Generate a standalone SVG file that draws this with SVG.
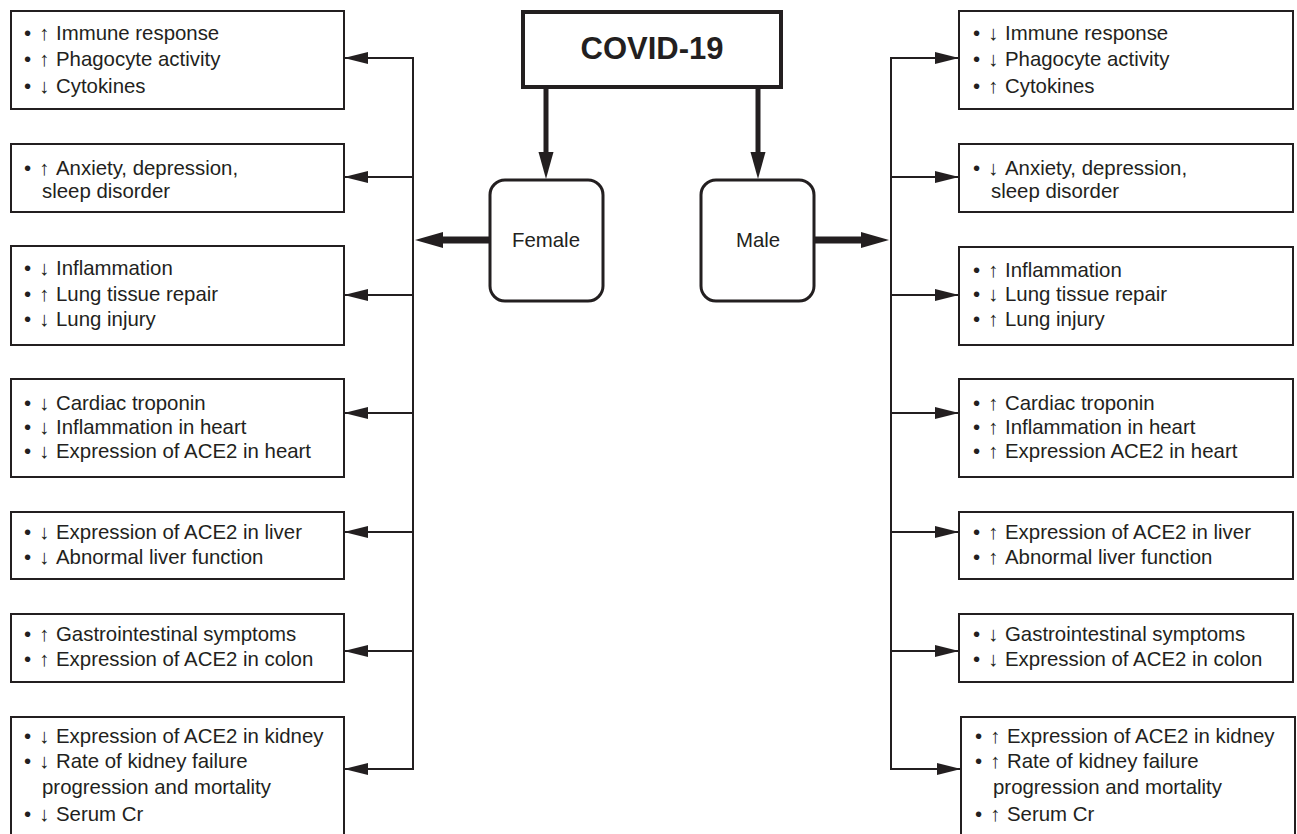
<svg xmlns="http://www.w3.org/2000/svg" width="1297" height="834" viewBox="0 0 1297 834">
<style>
.box{fill:#fff;stroke:#231f20;stroke-width:2}
.t{font-family:"Liberation Sans",Arial,sans-serif;font-size:20.4px;fill:#231f20}
.ln{fill:none;stroke:#231f20;stroke-width:2}
.thk{fill:none;stroke:#231f20;stroke-width:5}
.thkh{fill:none;stroke:#231f20;stroke-width:7}
.hd{fill:#231f20;stroke:none}
</style>
<defs>
<marker id="ah" markerUnits="userSpaceOnUse" markerWidth="24" markerHeight="12" refX="24" refY="6" orient="auto"><path d="M0,0 L24,6 L0,12 Z" fill="#231f20"/></marker>
</defs>
<rect width="1297" height="834" fill="#fff"/>

<g id="connectors">
<path class="thk" d="M546,87 V154"/>
<polygon class="hd" points="538.5,152 553.5,152 546,179"/>
<path class="thk" d="M758,87 V154"/>
<polygon class="hd" points="750.5,152 765.5,152 758,179"/>
<path class="thkh" d="M489,240 H440"/>
<polygon class="hd" points="443,232 443,248 415,240"/>
<path class="thkh" d="M815,240 H864"/>
<polygon class="hd" points="861,232 861,248 889,240"/>
<path class="ln" d="M413,57 V770"/>
<path class="ln" d="M413,58 H344" marker-end="url(#ah)"/>
<path class="ln" d="M413,177 H344" marker-end="url(#ah)"/>
<path class="ln" d="M413,295 H344" marker-end="url(#ah)"/>
<path class="ln" d="M413,413 H344" marker-end="url(#ah)"/>
<path class="ln" d="M413,532 H344" marker-end="url(#ah)"/>
<path class="ln" d="M413,651 H344" marker-end="url(#ah)"/>
<path class="ln" d="M413,769 H344" marker-end="url(#ah)"/>
<path class="ln" d="M891,57 V770"/>
<path class="ln" d="M891,58 H959" marker-end="url(#ah)"/>
<path class="ln" d="M891,177 H959" marker-end="url(#ah)"/>
<path class="ln" d="M891,295 H959" marker-end="url(#ah)"/>
<path class="ln" d="M891,413 H959" marker-end="url(#ah)"/>
<path class="ln" d="M891,532 H959" marker-end="url(#ah)"/>
<path class="ln" d="M891,651 H959" marker-end="url(#ah)"/>
<path class="ln" d="M891,769 H961" marker-end="url(#ah)"/>
</g>

<g id="covid">
<rect x="523" y="12" width="258" height="75" fill="#fff" stroke="#231f20" stroke-width="4"/>
<text x="652" y="59" text-anchor="middle" style="font-family:'Liberation Sans',Arial,sans-serif;font-weight:bold;font-size:31px;fill:#231f20">COVID-19</text>
</g>
<g id="female">
<rect x="490" y="180" width="113" height="121" rx="15" fill="#fff" stroke="#231f20" stroke-width="3"/>
<text class="t" x="546" y="247" text-anchor="middle">Female</text>
</g>
<g id="male">
<rect x="701" y="180" width="113" height="121" rx="15" fill="#fff" stroke="#231f20" stroke-width="3"/>
<text class="t" x="758" y="247" text-anchor="middle">Male</text>
</g>

<g id="f1">
<rect class="box" x="11" y="11" width="333" height="98"/>
<text class="t"><tspan x="24" y="40">•</tspan><tspan x="39" y="40">↑</tspan><tspan x="56" y="40">Immune response</tspan></text>
<text class="t"><tspan x="24" y="66">•</tspan><tspan x="39" y="66">↑</tspan><tspan x="56" y="66">Phagocyte activity</tspan></text>
<text class="t"><tspan x="24" y="93">•</tspan><tspan x="39" y="93">↓</tspan><tspan x="56" y="93">Cytokines</tspan></text>
</g>
<g id="f2">
<rect class="box" x="11" y="144" width="333" height="68"/>
<text class="t"><tspan x="24" y="175">•</tspan><tspan x="39" y="175">↑</tspan><tspan x="56" y="175">Anxiety, depression,</tspan></text>
<text class="t" x="42" y="198">sleep disorder</text>
</g>
<g id="f3">
<rect class="box" x="11" y="246" width="333" height="99"/>
<text class="t"><tspan x="24" y="275">•</tspan><tspan x="39" y="275">↓</tspan><tspan x="56" y="275">Inflammation</tspan></text>
<text class="t"><tspan x="24" y="301">•</tspan><tspan x="39" y="301">↑</tspan><tspan x="56" y="301">Lung tissue repair</tspan></text>
<text class="t"><tspan x="24" y="326">•</tspan><tspan x="39" y="326">↓</tspan><tspan x="56" y="326">Lung injury</tspan></text>
</g>
<g id="f4">
<rect class="box" x="11" y="379" width="333" height="98"/>
<text class="t"><tspan x="24" y="410">•</tspan><tspan x="39" y="410">↓</tspan><tspan x="56" y="410">Cardiac troponin</tspan></text>
<text class="t"><tspan x="24" y="434">•</tspan><tspan x="39" y="434">↓</tspan><tspan x="56" y="434">Inflammation in heart</tspan></text>
<text class="t"><tspan x="24" y="458">•</tspan><tspan x="39" y="458">↓</tspan><tspan x="56" y="458">Expression of ACE2 in heart</tspan></text>
</g>
<g id="f5">
<rect class="box" x="11" y="512" width="333" height="67"/>
<text class="t"><tspan x="24" y="539">•</tspan><tspan x="39" y="539">↓</tspan><tspan x="56" y="539">Expression of ACE2 in liver</tspan></text>
<text class="t"><tspan x="24" y="564">•</tspan><tspan x="39" y="564">↓</tspan><tspan x="56" y="564">Abnormal liver function</tspan></text>
</g>
<g id="f6">
<rect class="box" x="11" y="614" width="333" height="68"/>
<text class="t"><tspan x="24" y="641">•</tspan><tspan x="39" y="641">↑</tspan><tspan x="56" y="641">Gastrointestinal symptoms</tspan></text>
<text class="t"><tspan x="24" y="666">•</tspan><tspan x="39" y="666">↑</tspan><tspan x="56" y="666">Expression of ACE2 in colon</tspan></text>
</g>
<g id="f7">
<rect class="box" x="11" y="717" width="333" height="130"/>
<text class="t"><tspan x="24" y="743">•</tspan><tspan x="39" y="743">↓</tspan><tspan x="56" y="743">Expression of ACE2 in kidney</tspan></text>
<text class="t"><tspan x="24" y="768">•</tspan><tspan x="39" y="768">↓</tspan><tspan x="56" y="768">Rate of kidney failure</tspan></text>
<text class="t" x="42" y="794">progression and mortality</text>
<text class="t"><tspan x="24" y="821">•</tspan><tspan x="39" y="821">↓</tspan><tspan x="56" y="821">Serum Cr</tspan></text>
</g>

<g id="m1">
<rect class="box" x="959" y="11" width="334" height="98"/>
<text class="t"><tspan x="973" y="40">•</tspan><tspan x="988" y="40">↓</tspan><tspan x="1005" y="40">Immune response</tspan></text>
<text class="t"><tspan x="973" y="66">•</tspan><tspan x="988" y="66">↓</tspan><tspan x="1005" y="66">Phagocyte activity</tspan></text>
<text class="t"><tspan x="973" y="93">•</tspan><tspan x="988" y="93">↑</tspan><tspan x="1005" y="93">Cytokines</tspan></text>
</g>
<g id="m2">
<rect class="box" x="959" y="144" width="334" height="68"/>
<text class="t"><tspan x="973" y="175">•</tspan><tspan x="988" y="175">↓</tspan><tspan x="1005" y="175">Anxiety, depression,</tspan></text>
<text class="t" x="991" y="198">sleep disorder</text>
</g>
<g id="m3">
<rect class="box" x="959" y="247" width="334" height="98"/>
<text class="t"><tspan x="973" y="277">•</tspan><tspan x="988" y="277">↑</tspan><tspan x="1005" y="277">Inflammation</tspan></text>
<text class="t"><tspan x="973" y="301">•</tspan><tspan x="988" y="301">↓</tspan><tspan x="1005" y="301">Lung tissue repair</tspan></text>
<text class="t"><tspan x="973" y="326">•</tspan><tspan x="988" y="326">↑</tspan><tspan x="1005" y="326">Lung injury</tspan></text>
</g>
<g id="m4">
<rect class="box" x="959" y="379" width="334" height="98"/>
<text class="t"><tspan x="973" y="410">•</tspan><tspan x="988" y="410">↑</tspan><tspan x="1005" y="410">Cardiac troponin</tspan></text>
<text class="t"><tspan x="973" y="434">•</tspan><tspan x="988" y="434">↑</tspan><tspan x="1005" y="434">Inflammation in heart</tspan></text>
<text class="t"><tspan x="973" y="458">•</tspan><tspan x="988" y="458">↑</tspan><tspan x="1005" y="458">Expression ACE2 in heart</tspan></text>
</g>
<g id="m5">
<rect class="box" x="959" y="512" width="334" height="67"/>
<text class="t"><tspan x="973" y="539">•</tspan><tspan x="988" y="539">↑</tspan><tspan x="1005" y="539">Expression of ACE2 in liver</tspan></text>
<text class="t"><tspan x="973" y="564">•</tspan><tspan x="988" y="564">↑</tspan><tspan x="1005" y="564">Abnormal liver function</tspan></text>
</g>
<g id="m6">
<rect class="box" x="959" y="614" width="334" height="68"/>
<text class="t"><tspan x="973" y="641">•</tspan><tspan x="988" y="641">↓</tspan><tspan x="1005" y="641">Gastrointestinal symptoms</tspan></text>
<text class="t"><tspan x="973" y="666">•</tspan><tspan x="988" y="666">↓</tspan><tspan x="1005" y="666">Expression of ACE2 in colon</tspan></text>
</g>
<g id="m7">
<rect class="box" x="961" y="717" width="334" height="130"/>
<text class="t"><tspan x="975" y="743">•</tspan><tspan x="990" y="743">↑</tspan><tspan x="1007" y="743">Expression of ACE2 in kidney</tspan></text>
<text class="t"><tspan x="975" y="768">•</tspan><tspan x="990" y="768">↑</tspan><tspan x="1007" y="768">Rate of kidney failure</tspan></text>
<text class="t" x="993" y="794">progression and mortality</text>
<text class="t"><tspan x="975" y="821">•</tspan><tspan x="990" y="821">↑</tspan><tspan x="1007" y="821">Serum Cr</tspan></text>
</g>
</svg>
